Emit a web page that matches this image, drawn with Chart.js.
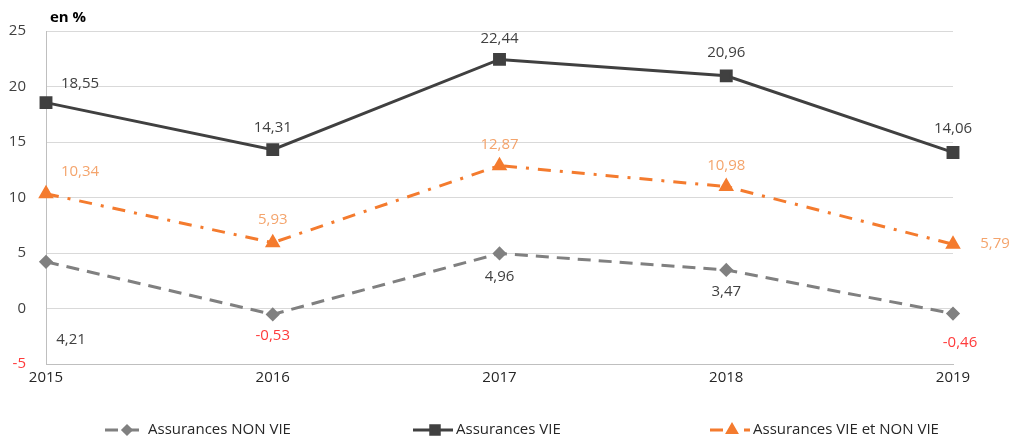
<!DOCTYPE html>
<html>
<head>
<meta charset="utf-8">
<script src="https://cdn.jsdelivr.net/npm/chart.js@4/dist/chart.umd.min.js"></script>
<style>
  html, body { margin: 0; padding: 0; background: #fff; }
  #wrap { width: 1011px; height: 437px; position: relative; }
</style>
</head>
<body>
<div id="wrap"><canvas id="graf"></canvas></div>
<script>
'use strict'

const annees = ['2015', '2016', '2017', '2018', '2019']
const nonVie = [4.21, -0.53, 4.96, 3.47, -0.46]
const vie = [18.55, 14.31, 22.44, 20.96, 14.06]
const vieEtNonVie = [10.34, 5.93, 12.87, 10.98, 5.79]
const yTicks = [-5, 0, 5, 10, 15, 20, 25]

const police = "'Open Sans', sans-serif"

// decalage des etiquettes par point (dx, dy) en pixels
const decalages = [
  [[25, 78], [0, 21], [0, 23], [0, 22], [7, 29]],
  [[34, -19], [0, -22], [0, -21], [0, -23], [0, -24]],
  [[34, -22], [0, -23], [0, -21], [0, -21], [42, 0]]
]
const couleursEtiq = ['#404040', '#404040', '#f4a46c']

const etiquettes = {
  id: 'etiquettes',
  afterDatasetsDraw(chart) {
    const ctx = chart.ctx
    ctx.save()
    ctx.font = '15px ' + police
    ctx.textAlign = 'center'
    ctx.textBaseline = 'middle'
    chart.data.datasets.forEach((ds, i) => {
      chart.getDatasetMeta(i).data.forEach((pt, j) => {
        const v = ds.data[j]
        const [dx, dy] = decalages[i][j]
        ctx.fillStyle = v < 0 ? '#ff3b3b' : couleursEtiq[i]
        ctx.fillText(v.toFixed(2).replace('.', ','), pt.x + dx, pt.y + dy)
      })
    })
    // titre de l'axe
    ctx.font = 'bold 15px ' + police
    ctx.fillStyle = '#000'
    ctx.textAlign = 'left'
    ctx.fillText('en %', 50, 18)
    ctx.restore()
  }
}

const legende = {
  id: 'legende',
  afterDraw(chart) {
    const ctx = chart.ctx
    const xs = [105, 413, 710]
    const y = 430
    ctx.save()
    chart.data.datasets.forEach((ds, i) => {
      const x = xs[i]
      ctx.strokeStyle = ds.borderColor
      ctx.lineWidth = 3
      ctx.setLineDash(ds.borderDash || [])
      ctx.beginPath()
      ctx.moveTo(x, y)
      ctx.lineTo(x + 40, y)
      ctx.stroke()
      ctx.setLineDash([])
      ctx.fillStyle = ds.pointBackgroundColor
      ctx.strokeStyle = ds.pointBackgroundColor
      Chart.helpers.drawPoint(ctx, {
        pointStyle: ds.pointStyle, radius: ds.pointRadius - 1, borderWidth: 1
      }, x + 22, y)
      ctx.font = '15px ' + police
      ctx.fillStyle = '#262626'
      ctx.textBaseline = 'middle'
      ctx.textAlign = 'left'
      ctx.fillText(ds.label, x + 43, y)
    })
    ctx.restore()
  }
}

const data = {
  labels: annees,
  datasets: [{
    label: 'Assurances NON VIE',
    data: nonVie,
    borderColor: '#808080',
    backgroundColor: '#808080',
    pointBackgroundColor: '#808080',
    pointBorderColor: '#808080',
    borderWidth: 3,
    borderDash: [13, 8],
    pointStyle: 'rectRot',
    pointRadius: 5,
    tension: 0
  },
  {
    label: 'Assurances VIE',
    data: vie,
    borderColor: '#404040',
    backgroundColor: '#404040',
    pointBackgroundColor: '#404040',
    pointBorderColor: '#404040',
    borderWidth: 3,
    pointStyle: 'rect',
    pointRadius: 7,
    tension: 0
  },
  {
    label: 'Assurances VIE et NON VIE',
    data: vieEtNonVie,
    borderColor: '#f47b2e',
    backgroundColor: '#f47b2e',
    pointBackgroundColor: '#f47b2e',
    pointBorderColor: '#f47b2e',
    borderWidth: 3,
    borderDash: [13, 9, 3, 9],
    pointStyle: 'triangle',
    pointRadius: 6,
    tension: 0
  }]
}

const config = {
  type: 'line',
  data: data,
  plugins: [etiquettes, legende],
  options: {
    responsive: true,
    maintainAspectRatio: false,
    animation: false,
    layout: { padding: { top: 31, right: 58, left: 0, bottom: 0 } },
    plugins: { legend: { display: false }, tooltip: { enabled: false } },
    scales: {
      x: {
        offset: false,
        grid: { drawOnChartArea: false, drawTicks: false },
        border: { display: true, color: '#bfbfbf', width: 1 },
        ticks: { color: '#262626', font: { family: police, size: 15 }, padding: 5, maxRotation: 0 },
        afterFit: s => { s.height = 73 }
      },
      y: {
        min: -5,
        max: 25,
        afterBuildTicks: s => { s.ticks = yTicks.map(v => ({ value: v })) },
        grid: {
          drawTicks: false,
          color: c => c.tick && c.tick.value === -5 ? '#bfbfbf' : '#d9d9d9'
        },
        border: { display: true, color: '#bfbfbf', width: 1 },
        ticks: {
          padding: 20,
          font: { family: police, size: 15 },
          color: c => c.tick.value < 0 ? '#ff3b3b' : '#404040'
        },
        afterFit: s => { s.width = 46 }
      }
    }
  }
}

let graf = new Chart(document.querySelector('#graf'), config)
</script>
</body>
</html>
